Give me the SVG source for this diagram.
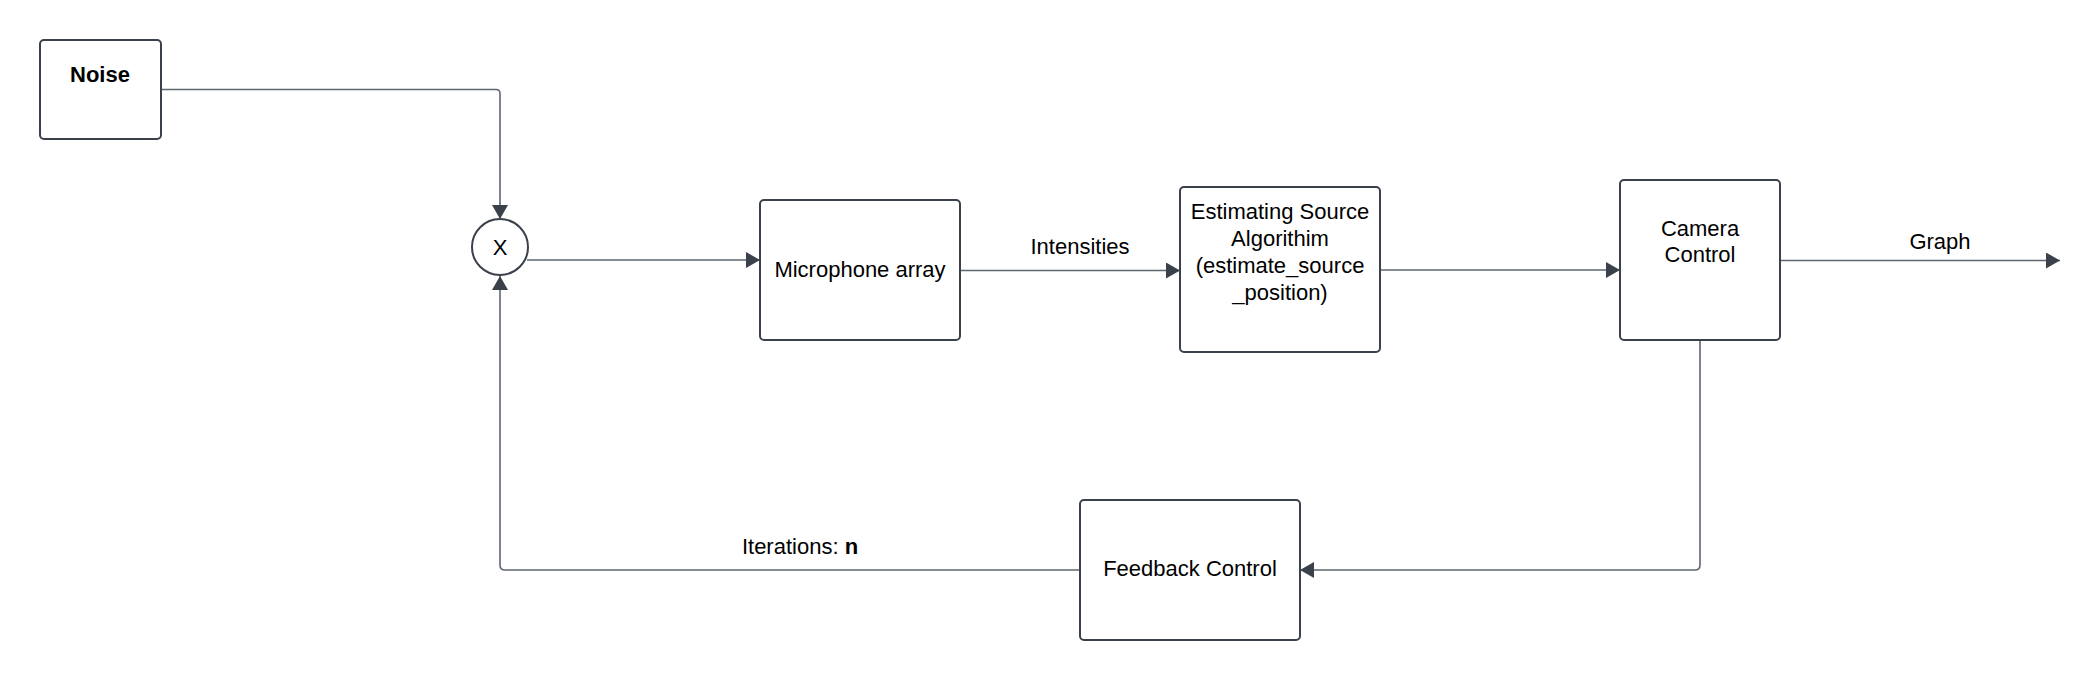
<svg xmlns="http://www.w3.org/2000/svg" width="2100" height="680" viewBox="0 0 2100 680">
  <style>
    .box { fill: #ffffff; stroke: #3a414a; stroke-width: 2; }
    .lbl { font-family: "Liberation Sans", Arial, sans-serif; font-size: 22px; fill: #000000; text-anchor: middle; }
    .bold { font-weight: bold; }
    .conn { fill: none; stroke: #5f6670; stroke-width: 1.6; }
  </style>
  <defs>
    <marker id="arrow" markerUnits="userSpaceOnUse" markerWidth="16" markerHeight="18" refX="14" refY="8" orient="auto">
      <path d="M0,0 L14,8 L0,16 Z" fill="#3a414a"/>
    </marker>
  </defs>
  <rect width="2100" height="680" fill="#ffffff"/>

  <g id="connectors">
    <path class="conn" d="M161,89.5 H496 Q500,89.5 500,93.5 V219" marker-end="url(#arrow)"/>
    <path class="conn" d="M527,260 H760" marker-end="url(#arrow)"/>
    <path class="conn" d="M960,270.5 H1180" marker-end="url(#arrow)"/>
    <text class="lbl" x="1080" y="254">Intensities</text>
    <path class="conn" d="M1380,270 H1620" marker-end="url(#arrow)"/>
    <path class="conn" d="M1780,260.5 H2060" marker-end="url(#arrow)"/>
    <text class="lbl" x="1940" y="249">Graph</text>
    <path class="conn" d="M1700,340 V565 Q1700,570 1695,570 H1300" marker-end="url(#arrow)"/>
    <path class="conn" d="M1080,570 H505 Q500,570 500,565 V276" marker-end="url(#arrow)"/>
    <text class="lbl" x="800" y="554">Iterations: <tspan class="bold">n</tspan></text>
  </g>

  <g id="noise">
    <rect class="box" x="40" y="40" width="121" height="99" rx="4"/>
    <text class="lbl bold" x="100" y="82">Noise</text>
  </g>

  <g id="multiplier">
    <circle class="box" cx="500" cy="247" r="28"/>
    <text class="lbl" x="500" y="255">X</text>
  </g>

  <g id="microphone-array">
    <rect class="box" x="760" y="200" width="200" height="140" rx="4"/>
    <text class="lbl" x="860" y="277">Microphone array</text>
  </g>

  <g id="estimating-source">
    <rect class="box" x="1180" y="187" width="200" height="165" rx="4"/>
    <text class="lbl" x="1280" y="219">Estimating Source</text>
    <text class="lbl" x="1280" y="246">Algorithim</text>
    <text class="lbl" x="1280" y="273">(estimate_source</text>
    <text class="lbl" x="1280" y="300">_position)</text>
  </g>

  <g id="camera-control">
    <rect class="box" x="1620" y="180" width="160" height="160" rx="4"/>
    <text class="lbl" x="1700" y="236">Camera</text>
    <text class="lbl" x="1700" y="262">Control</text>
  </g>

  <g id="feedback-control">
    <rect class="box" x="1080" y="500" width="220" height="140" rx="4"/>
    <text class="lbl" x="1190" y="576">Feedback Control</text>
  </g>
</svg>
